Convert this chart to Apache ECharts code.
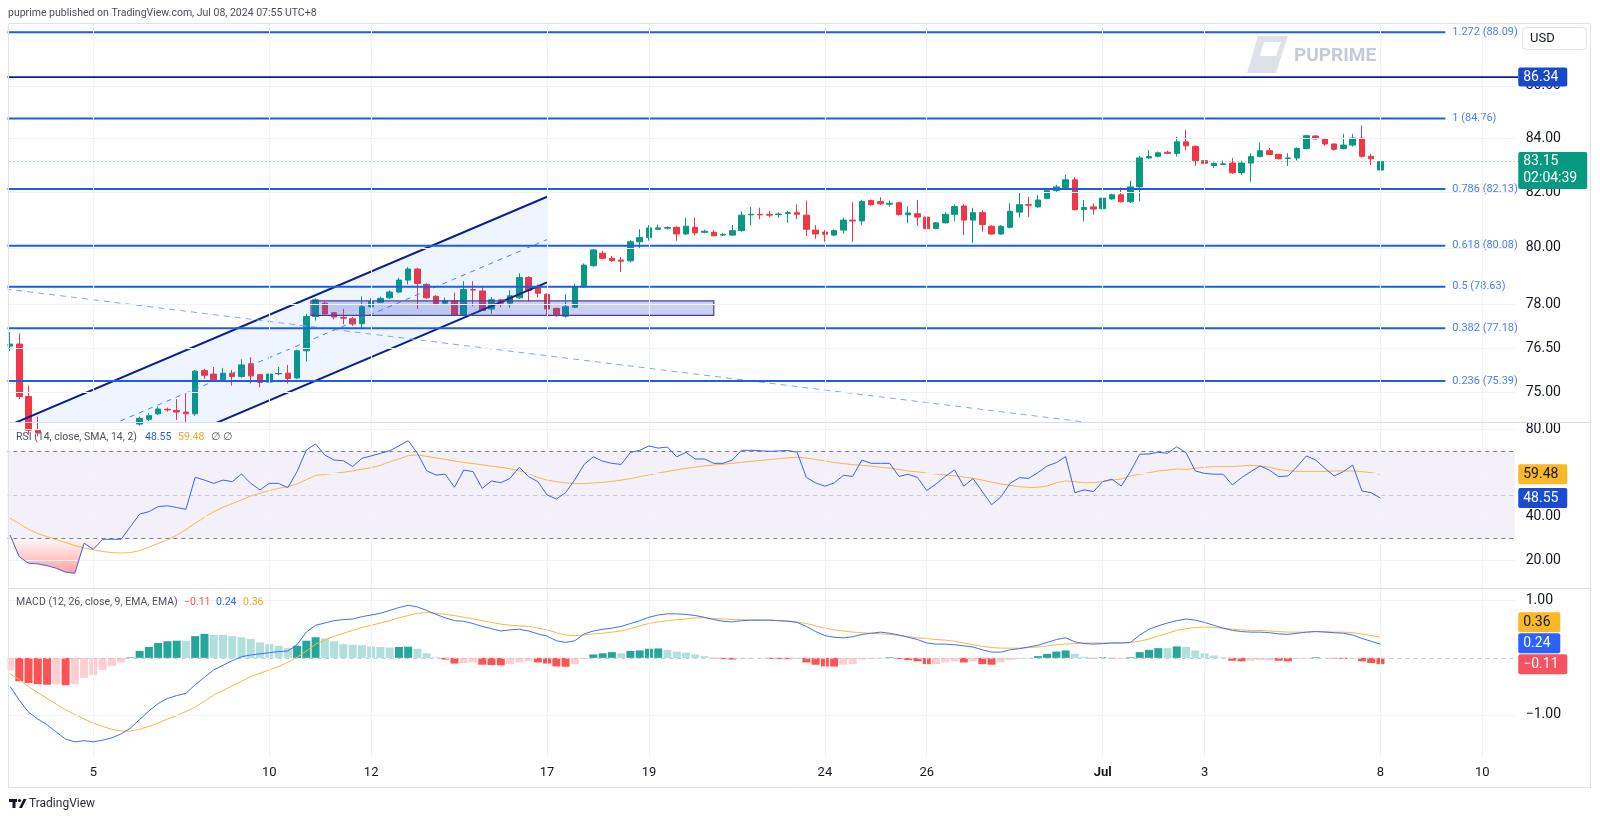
<!DOCTYPE html>
<html><head><meta charset="utf-8">
<script src="https://cdn.jsdelivr.net/npm/echarts@6/dist/echarts.min.js"></script>
<style>html,body{margin:0;padding:0;background:#fff;overflow:hidden}#c{width:1600px;height:819px}</style>
</head><body><div id="c"></div>
<script>
// ---------------- DATA (4h USOIL bars) ----------------
const open = [76.57,76.64,74.87,73.75,73.68,73.58,73.40,73.15,73.08,73.70,
73.55,73.75,73.74,73.72,73.95,74.11,74.29,74.44,74.40,74.35,
74.29,75.74,75.62,75.43,75.65,75.54,75.97,75.60,75.35,75.63,
75.65,75.49,76.41,77.59,78.05,77.72,77.56,77.51,77.34,77.93,
78.08,78.24,78.44,78.86,79.25,78.71,78.29,78.05,78.14,77.63,
78.53,78.48,77.85,78.17,78.05,78.24,78.95,78.60,78.36,77.87,
77.60,77.91,78.62,79.37,79.81,79.63,79.57,79.54,80.22,80.37,
80.67,80.71,80.74,80.50,80.74,80.56,80.56,80.46,80.46,80.62,
81.19,81.21,81.21,81.20,81.24,81.27,81.18,80.64,80.57,80.46,
80.64,81.00,80.97,81.71,81.67,81.58,81.63,81.19,81.23,81.11,
80.70,80.90,81.21,81.51,81.00,81.27,80.78,80.50,80.74,81.29,
81.56,81.48,81.79,82.07,82.19,82.47,81.38,81.48,81.41,81.77,
81.92,81.67,82.21,83.28,83.34,83.49,83.45,83.88,83.71,83.18,
83.00,83.04,83.09,82.74,83.09,83.33,83.55,83.41,83.26,83.28,
83.63,84.10,83.99,83.80,83.63,83.76,84.02,83.34,82.83];
const high = [77.05,77.00,75.24,74.20,73.85,73.70,73.50,73.30,73.80,73.78,
73.85,73.85,73.82,74.00,74.20,74.32,74.53,74.50,74.78,74.95,
75.76,75.80,75.86,75.83,75.76,76.12,76.19,75.63,75.65,75.86,
75.93,76.45,77.68,78.22,78.12,77.75,77.85,77.57,78.29,78.22,
78.28,78.50,78.95,79.32,79.30,78.75,78.33,78.25,78.42,78.82,
78.82,78.61,78.26,78.20,78.50,79.10,79.00,78.70,78.40,77.90,
78.36,78.74,79.45,79.96,79.90,79.71,79.67,80.28,80.67,80.82,
80.84,80.78,80.77,81.08,81.09,80.65,80.64,80.54,80.82,81.32,
81.47,81.45,81.33,81.28,81.33,81.57,81.71,80.82,80.64,80.67,
81.09,81.65,81.74,81.75,81.83,81.71,81.66,81.50,81.73,81.14,
80.93,81.29,81.57,81.59,81.45,81.35,80.82,80.82,81.61,81.99,
81.85,81.92,82.12,82.29,82.66,82.56,81.73,81.61,81.84,81.96,
82.19,82.44,83.36,83.57,83.52,83.55,84.07,84.33,83.75,83.34,
83.11,83.18,83.28,83.18,83.45,83.86,83.65,83.44,83.46,83.67,
84.15,84.13,84.02,83.82,84.18,84.18,84.49,83.43,83.25];
const low = [76.40,74.78,73.60,73.55,73.45,73.30,73.05,72.95,73.02,73.45,
73.50,73.60,73.62,73.68,73.90,74.05,74.25,74.36,74.09,74.00,
74.22,75.46,75.38,75.38,75.23,75.50,75.30,75.17,75.23,75.58,
75.30,75.45,76.04,77.45,77.65,77.49,77.32,77.26,77.19,77.90,
78.05,78.20,78.40,78.71,77.85,78.20,77.98,77.99,77.60,77.60,
77.94,77.78,77.68,77.91,77.89,78.20,78.11,78.26,77.65,77.58,
77.55,77.88,78.58,79.33,79.60,79.50,79.15,79.48,79.99,80.26,
80.64,80.67,80.26,80.47,80.45,80.52,80.41,80.43,80.43,80.58,
80.82,81.03,81.11,81.09,80.90,81.03,80.43,80.33,80.22,80.42,
80.52,80.22,80.83,81.52,81.55,81.49,81.17,80.89,80.79,80.50,
80.67,80.88,80.96,80.46,80.17,80.58,80.47,80.47,80.70,81.09,
81.11,81.45,81.76,82.03,82.15,81.35,80.96,81.20,81.38,81.74,
81.64,81.62,81.68,83.25,83.30,83.42,83.33,83.57,82.99,82.69,
82.91,83.03,82.69,82.66,82.40,83.30,83.38,83.22,82.98,83.18,
83.60,83.96,83.73,83.55,83.60,83.70,83.29,83.02,82.80];
const close = [76.64,74.87,73.75,73.68,73.58,73.40,73.15,73.08,73.70,73.55,
73.75,73.74,73.72,73.95,74.14,74.23,74.45,74.42,74.35,74.29,
75.72,75.58,75.43,75.65,75.54,75.93,75.56,75.34,75.62,75.64,
75.47,76.41,77.59,78.17,77.68,77.57,77.53,77.33,77.93,78.11,
78.22,78.44,78.86,79.25,78.74,78.24,78.02,78.14,77.63,78.53,
78.51,77.80,78.17,78.05,78.31,78.95,78.50,78.40,77.85,77.62,
77.93,78.62,79.39,79.93,79.63,79.55,79.53,80.22,80.37,80.72,
80.72,80.73,80.50,80.78,80.54,80.60,80.44,80.48,80.62,81.18,
81.21,81.19,81.18,81.22,81.27,81.21,80.67,80.50,80.49,80.62,
81.00,80.97,81.68,81.56,81.59,81.61,81.20,81.26,81.11,80.69,
80.90,81.21,81.49,81.00,81.27,80.84,80.50,80.78,81.32,81.56,
81.54,81.73,82.07,82.21,82.47,81.38,81.46,81.40,81.80,81.92,
81.67,82.21,83.28,83.33,83.47,83.45,83.88,83.73,83.18,83.08,
83.08,83.06,82.73,83.09,83.33,83.55,83.41,83.25,83.28,83.63,
84.11,83.99,83.80,83.60,83.76,84.02,83.34,83.25,83.15];
const rsi = [31.6,21.6,18.6,18.3,17.5,16.3,14.5,14.0,27.8,25.0,
29.6,29.6,29.6,35.4,41.2,42.3,44.6,45.0,44.2,43.4,
58.1,56.8,55.3,56.8,56.1,59.6,55.3,52.3,55.3,55.3,
53.3,60.7,70.6,73.4,68.3,66.0,65.7,63.0,66.8,67.9,
69.1,70.3,72.5,74.9,69.1,61.1,59.1,59.5,53.5,61.4,
60.7,53.0,56.4,55.6,57.6,62.7,58.4,56.1,50.0,48.1,
51,57,64,67.5,65.5,64.5,64,69.5,70.5,72.5,
71.5,72,67.5,69.5,66.5,66.5,64.5,64.5,66,70.5,
70.5,70.3,70,70.2,70.4,69.6,58,55.5,54,55.5,
59,58.5,66,64.5,64.5,64.5,58.5,59.5,58,52,
55,58.5,61.5,54,57.5,51.5,45.5,49.0,55.3,57.9,
57.6,60.2,63.3,64.8,67.6,51.0,52.3,51.5,56.1,57.2,
54.1,60.7,68.7,68.8,69.6,69.1,72.1,69.4,61.0,59.9,
59.5,59.5,54.6,57.9,60.7,63.3,61.4,58.4,58.7,63.0,
67.9,66.0,62.2,58.7,60.7,63.7,51.8,51.0,48.55];
const rsiMa = [39.3,36.8,34.2,32.2,30.8,29.5,28.2,26.7,25.6,24.7,
24.0,23.5,23.3,23.5,24.4,26.0,27.7,29.3,31.5,34.0,
37.0,39.7,42.3,44.3,46.0,47.7,49.5,50.8,52.0,53.0,
53.9,55.0,57.0,58.9,59.4,59.9,60.4,61.0,61.8,62.5,
63.6,65.2,66.5,68.0,68.4,67.7,67.0,66.3,65.6,64.9,
64.4,63.8,63.2,62.7,62.0,61.1,59.8,58.0,56.8,56.1,
55.5,55.2,55.2,55.5,55.8,56.2,56.8,57.5,58.3,59.2,
60.0,60.8,61.5,62.2,62.8,63.3,63.7,64.1,64.5,65.0,
65.4,65.8,66.2,66.6,67.0,67.3,66.9,66.3,65.6,64.9,
64.4,63.9,63.6,63.2,62.7,62.3,61.7,61.0,60.6,60.0,
59.6,59.2,58.8,58.2,57.6,56.8,55.9,55.0,54.4,53.8,
53.4,53.5,54.1,55.6,56.4,56.1,55.6,55.6,56.1,56.8,
57.3,58.7,59.5,60.2,61.0,61.4,61.9,61.7,62.2,62.7,
63.0,63.0,63.0,63.3,63.6,63.3,62.7,61.7,61.1,60.8,
60.8,60.8,60.8,61.0,61.0,61.0,60.7,60.2,59.48];
const macd = [-0.50,-0.74,-0.95,-1.07,-1.17,-1.30,-1.42,-1.47,-1.45,-1.47,
-1.44,-1.40,-1.33,-1.23,-1.08,-0.93,-0.80,-0.71,-0.66,-0.62,
-0.47,-0.34,-0.21,-0.13,-0.05,0.02,0.05,0.07,0.09,0.11,
0.12,0.23,0.45,0.57,0.61,0.65,0.67,0.68,0.72,0.75,
0.78,0.83,0.88,0.92,0.89,0.83,0.76,0.70,0.65,0.64,
0.60,0.55,0.51,0.47,0.49,0.50,0.47,0.42,0.38,0.30,
0.27,0.30,0.42,0.47,0.50,0.52,0.55,0.60,0.65,0.71,
0.75,0.77,0.77,0.76,0.74,0.71,0.67,0.64,0.63,0.65,
0.66,0.66,0.66,0.65,0.64,0.62,0.55,0.46,0.39,0.36,
0.35,0.37,0.41,0.43,0.45,0.43,0.40,0.36,0.32,0.26,
0.24,0.24,0.23,0.21,0.19,0.14,0.10,0.10,0.14,0.16,
0.19,0.22,0.27,0.32,0.35,0.28,0.25,0.24,0.25,0.26,
0.26,0.27,0.40,0.50,0.56,0.61,0.65,0.68,0.66,0.62,
0.57,0.52,0.48,0.46,0.45,0.45,0.44,0.42,0.41,0.43,
0.45,0.46,0.45,0.44,0.43,0.40,0.34,0.29,0.24];
const signal = [-0.28,-0.38,-0.50,-0.61,-0.71,-0.81,-0.91,-0.99,-1.07,-1.14,
-1.20,-1.25,-1.28,-1.28,-1.25,-1.20,-1.14,-1.07,-1.01,-0.94,
-0.86,-0.76,-0.65,-0.57,-0.49,-0.41,-0.33,-0.27,-0.21,-0.15,
-0.08,0.01,0.12,0.24,0.31,0.38,0.43,0.48,0.53,0.57,
0.61,0.65,0.70,0.74,0.78,0.79,0.78,0.76,0.74,0.71,
0.68,0.65,0.62,0.59,0.57,0.56,0.55,0.52,0.49,0.44,
0.40,0.39,0.40,0.42,0.43,0.45,0.47,0.51,0.56,0.60,
0.63,0.65,0.67,0.68,0.70,0.70,0.69,0.68,0.67,0.67,
0.66,0.66,0.66,0.65,0.65,0.63,0.60,0.56,0.52,0.49,
0.47,0.45,0.44,0.43,0.42,0.41,0.39,0.37,0.35,0.34,
0.32,0.31,0.29,0.26,0.23,0.20,0.18,0.17,0.17,0.17,
0.18,0.19,0.21,0.23,0.24,0.25,0.26,0.26,0.26,0.26,
0.26,0.27,0.29,0.33,0.38,0.43,0.48,0.51,0.53,0.54,
0.53,0.52,0.50,0.49,0.48,0.48,0.47,0.46,0.45,0.45,
0.45,0.46,0.46,0.45,0.45,0.44,0.42,0.39,0.36];
const hist = [-0.22,-0.41,-0.44,-0.46,-0.47,-0.46,-0.48,-0.46,-0.35,-0.30,
-0.21,-0.14,-0.08,0.01,0.12,0.19,0.26,0.29,0.30,0.30,
0.38,0.42,0.40,0.40,0.38,0.36,0.33,0.27,0.24,0.21,
0.17,0.21,0.30,0.36,0.34,0.29,0.24,0.23,0.22,0.20,
0.19,0.18,0.19,0.195,0.16,0.08,0.01,-0.03,-0.10,-0.09,
-0.08,-0.12,-0.125,-0.13,-0.11,-0.08,-0.06,-0.08,-0.10,-0.15,
-0.155,-0.11,-0.02,0.06,0.08,0.10,0.08,0.12,0.13,0.16,
0.165,0.14,0.11,0.09,0.06,0.03,-0.01,-0.02,-0.03,-0.01,
-0.01,-0.005,-0.02,-0.022,-0.024,-0.02,-0.08,-0.12,-0.15,-0.152,
-0.12,-0.11,-0.03,-0.02,-0.01,0.01,-0.02,-0.04,-0.06,-0.11,
-0.11,-0.08,-0.06,-0.08,-0.06,-0.11,-0.12,-0.08,-0.04,-0.02,
-0.01,0.03,0.07,0.11,0.13,0.07,0.02,-0.01,0.01,-0.01,
-0.01,0.01,0.10,0.14,0.17,0.17,0.20,0.19,0.13,0.08,
0.04,0.01,-0.05,-0.06,-0.05,-0.04,-0.04,-0.05,-0.06,-0.02,
-0.01,0.01,0.005,-0.01,-0.02,-0.01,-0.06,-0.09,-0.11];

const xTickIndex = [9, 28, 39, 58, 69, 88, 99, 118, 129, 148, 159];
const xTickText  = ['5','10','12','17','19','24','26','Jul','3','8','10'];
const priceTicks = [75, 76.5, 78, 80, 82, 84, 86];
const rsiTicks = [20, 40, 60, 80];
const rsiBands = [70, 50, 30];
const macdTicks = [-1, 1];
const fibRatio = [1.272, 1, 0.786, 0.618, 0.5, 0.382, 0.236];
const fibPrice = [88.09, 84.76, 82.13, 80.08, 78.63, 77.18, 75.39];
const keyLevel = 86.34;
const lastPrice = 83.15;
const countdown = '02:04:39';
const channelBars = [0, 58];
const channelUpper = [73.92, 81.85];
const channelMid = [72.52, 80.30];
const channelLower = [71.15, 78.78];
const trendBars = [0, 120];
const trendPrices = [78.53, 73.87];
const zoneBars = [33, 76];
const zonePrices = [77.63, 78.13];
const fibEndBar = 155;

// ---------------- LAYOUT ----------------
const FONT = 'Roboto, "Noto Sans", "DejaVu Sans", sans-serif';
const TXT = '#131722';
const BARS = open.length;
const FUTURE = 14;
const NCAT = BARS + FUTURE;
const BW = 9.26;
const GL = 5.37;
const GW = NCAT * BW;
const PRICE_MIN = 74.02, PRICE_MAX = 88.45;
const LAST = BARS - 1;
const categories = Array.from({length: NCAT}, (_, i) => String(i));
const candleData = open.map((o, i) => [o, close[i], low[i], high[i]]);
const osBase = rsi.map(v => Math.min(v, 30));
const osFill = rsi.map(v => 30 - Math.min(v, 30));
const histData = hist.map((v, i) => {
  const p = i > 0 ? hist[i - 1] : v;
  let c;
  if (v >= 0) c = v > p ? '#26A69A' : '#B2DFDB';
  else c = v < p ? '#FF5252' : '#FFCDD2';
  return {value: v, itemStyle: {color: c}};
});
const fmtSigned = v => (v < 0 ? '\u2212' + Math.abs(v).toFixed(2) : v.toFixed(2));
const GRIDC = '#f0f3fa';
const HDR = '10.5px ' + FONT;
const AX = 14;

function vGrid() { return xTickIndex.map(i => ({xAxis: i})); }

const chart = echarts.init(document.getElementById('c'), null, {renderer: 'canvas'});

function txt(x, y, text, fill, font) {
  return {type: 'text', style: {x: x, y: y, text: text, fill: fill, font: font,
    align: 'left', verticalAlign: 'middle', textAlign: 'left', textVerticalAlign: 'middle'}};
}
function channelRender(params, api) {
  const u0 = api.coord([channelBars[0], channelUpper[0]]), u1 = api.coord([channelBars[1], channelUpper[1]]);
  const m0 = api.coord([channelBars[0], channelMid[0]]), m1 = api.coord([channelBars[1], channelMid[1]]);
  const l0 = api.coord([channelBars[0], channelLower[0]]), l1 = api.coord([channelBars[1], channelLower[1]]);
  return {type: 'group', children: [
    {type: 'polygon', shape: {points: [u0, u1, l1, l0]}, style: {fill: 'rgba(41,120,255,0.075)'}},
    {type: 'line', shape: {x1: m0[0], y1: m0[1], x2: m1[0], y2: m1[1]}, style: {stroke: '#4f7ff2', lineWidth: 1, lineDash: [5, 5]}},
    {type: 'line', shape: {x1: u0[0], y1: u0[1], x2: u1[0], y2: u1[1]}, style: {stroke: '#0b1f8f', lineWidth: 2}},
    {type: 'line', shape: {x1: l0[0], y1: l0[1], x2: l1[0], y2: l1[1]}, style: {stroke: '#0b1f8f', lineWidth: 2}}
  ]};
}
function trendRender(params, api) {
  const a = api.coord([trendBars[0], trendPrices[0]]), b = api.coord([trendBars[1], trendPrices[1]]);
  const cs = params.coordSys;
  const slope = (b[1] - a[1]) / (b[0] - a[0]);
  return {type: 'line', shape: {x1: cs.x, y1: a[1] - slope * (a[0] - cs.x), x2: b[0], y2: b[1]},
    style: {stroke: '#7fa8f6', lineWidth: 1, lineDash: [6, 5]}};
}
function zoneRender(params, api) {
  const a = api.coord([zoneBars[0], zonePrices[1]]), b = api.coord([zoneBars[1], zonePrices[0]]);
  return {type: 'rect', shape: {x: a[0] - 4.6, y: a[1], width: b[0] - a[0] + 4.6, height: b[1] - a[1]},
    style: {fill: 'rgba(55,80,210,0.27)', stroke: '#4b3f9f', lineWidth: 1.2}};
}
function fibRender(params, api) {
  const cs = params.coordSys;
  const p = api.value(1), r = api.value(2);
  const y = api.coord([0, p])[1];
  const xe = api.coord([fibEndBar, p])[0];
  return {type: 'group', children: [
    {type: 'line', shape: {x1: cs.x, y1: y, x2: xe, y2: y}, style: {stroke: '#1f5ce8', lineWidth: 2}},
    txt(xe + 7, y, r + ' (' + p.toFixed(2) + ')', '#4a7ff0', '11px ' + FONT)
  ]};
}
function priceBoxRender(params, api) {
  const cs = params.coordSys;
  const right = cs.x + cs.width;
  const yk = api.coord([0, keyLevel])[1];
  const yl = api.coord([0, lastPrice])[1];
  const bx = right + 3.5;
  return {type: 'group', children: [
    {type: 'line', shape: {x1: cs.x, y1: yk, x2: bx, y2: yk}, style: {stroke: '#0d1f9e', lineWidth: 1.6}},
    {type: 'line', shape: {x1: cs.x, y1: yl, x2: bx, y2: yl}, style: {stroke: '#5fb3a3', lineWidth: 1, lineDash: [1, 3]}},
    {type: 'rect', shape: {x: bx, y: yk - 9.5, width: 49, height: 19, r: 2}, style: {fill: '#1848cc'}},
    txt(bx + 5, yk + 0.5, keyLevel.toFixed(2), '#ffffff', AX + 'px ' + FONT),
    {type: 'rect', shape: {x: bx, y: yl - 9.5, width: 69, height: 37, r: 2}, style: {fill: '#089981'}},
    txt(bx + 5, yl + 0.5, lastPrice.toFixed(2), '#ffffff', AX + 'px ' + FONT),
    txt(bx + 5, yl + 17.5, countdown, '#ffffff', AX + 'px ' + FONT)
  ]};
}
function boxesRender(items) {
  return function (params, api) {
    const cs = params.coordSys;
    const bx = cs.x + cs.width + 3.5;
    const arr = items.map(it => Object.assign({}, it, {y: api.coord([LAST, it.v])[1]}));
    arr.sort((a, b) => a.y - b.y);
    for (let k = arr.length - 2; k >= 0; k--) {
      if (arr[k].y > arr[k + 1].y - 21) arr[k].y = arr[k + 1].y - 21;
    }
    const ch = [];
    arr.forEach(it => {
      const t = fmtSigned(it.v);
      const w = t.length > 4 ? 49 : 42;
      ch.push({type: 'rect', shape: {x: bx, y: it.y - 10, width: it.w || w, height: 20, r: 2}, style: {fill: it.fill}});
      ch.push(txt(bx + 5, it.y + 0.5, t, it.tc, AX + 'px ' + FONT));
    });
    return {type: 'group', children: ch};
  };
}

const nulls = categories.map(() => null);
const yLabel = {color: TXT, fontSize: AX, fontFamily: FONT, margin: 11};

const option = {
  animation: false,
  backgroundColor: '#ffffff',
  textStyle: {fontFamily: FONT},
  grid: [
    {left: GL, top: 23, width: GW, height: 399},
    {left: GL, top: 423, width: GW, height: 165},
    {left: GL, top: 589, width: GW, height: 169}
  ],
  xAxis: [0, 1, 2].map(g => ({
    type: 'category', gridIndex: g, data: categories, boundaryGap: true,
    axisLine: {show: false}, axisTick: {show: false}, splitLine: {show: false},
    axisLabel: g === 2 ? {
      show: true, interval: (idx) => xTickIndex.indexOf(idx) >= 0, margin: 8,
      color: TXT, fontSize: 13, fontFamily: FONT,
      formatter: (v, idx) => { const k = xTickIndex.indexOf(idx); if (k < 0) return ''; const t = xTickText[k]; return t === 'Jul' ? '{b|Jul}' : t; },
      rich: {b: {fontWeight: 'bold', fontSize: 13, color: TXT, fontFamily: FONT}}
    } : {show: false}
  })),
  yAxis: [
    {type: 'log', gridIndex: 0, min: PRICE_MIN, max: PRICE_MAX, show: false, position: 'left'},
    {type: 'value', gridIndex: 0, position: 'right', min: Math.log(PRICE_MIN), max: Math.log(PRICE_MAX),
      axisLine: {show: false}, axisTick: {show: false}, splitLine: {show: false},
      axisLabel: Object.assign({customValues: priceTicks.map(v => Math.log(v)), formatter: v => Math.exp(v).toFixed(2)}, yLabel)},
    {type: 'value', gridIndex: 1, position: 'right', min: 7.23, max: 83.03,
      axisLine: {show: false}, axisTick: {show: false}, splitLine: {show: false},
      axisLabel: Object.assign({customValues: rsiTicks, formatter: v => v.toFixed(2)}, yLabel)},
    {type: 'value', gridIndex: 2, position: 'right', min: -1.7524, max: 1.2047,
      axisLine: {show: false}, axisTick: {show: false}, splitLine: {show: false},
      axisLabel: Object.assign({customValues: macdTicks, formatter: v => fmtSigned(v)}, yLabel)}
  ],
  series: [
    {type: 'line', xAxisIndex: 0, yAxisIndex: 0, data: nulls, silent: true, z: 1, symbol: 'none',
      markLine: {silent: true, symbol: 'none', label: {show: false}, lineStyle: {color: GRIDC, width: 1, type: 'solid'},
        data: priceTicks.map(v => ({yAxis: v})).concat(vGrid())}},
    {type: 'candlestick', name: 'USOIL', xAxisIndex: 0, yAxisIndex: 0, data: candleData, barWidth: 6, z: 2,
      itemStyle: {color: '#089981', color0: '#F23645', borderColor: '#089981', borderColor0: '#F23645', borderWidth: 1}},
    {type: 'custom', xAxisIndex: 0, yAxisIndex: 0, data: [[channelBars[0], channelUpper[0]]], renderItem: channelRender, clip: true, silent: true, z: 3},
    {type: 'custom', xAxisIndex: 0, yAxisIndex: 0, data: [[trendBars[0], trendPrices[0]]], renderItem: trendRender, clip: true, silent: true, z: 3},
    {type: 'custom', xAxisIndex: 0, yAxisIndex: 0, data: [[zoneBars[0], zonePrices[0]]], renderItem: zoneRender, clip: true, silent: true, z: 4},
    {type: 'custom', xAxisIndex: 0, yAxisIndex: 0, data: fibPrice.map((p, k) => [0, p, fibRatio[k]]), renderItem: fibRender, clip: false, silent: true, z: 4},
    {type: 'custom', xAxisIndex: 0, yAxisIndex: 0, data: [[0, keyLevel]], renderItem: priceBoxRender, clip: false, silent: true, z: 10},

    {type: 'line', xAxisIndex: 1, yAxisIndex: 2, data: nulls, silent: true, z: 1, symbol: 'none',
      markArea: {silent: true, itemStyle: {color: 'rgba(126,87,194,0.09)'}, data: [[{yAxis: rsiBands[0]}, {yAxis: rsiBands[2]}]]},
      markLine: {silent: true, symbol: 'none', label: {show: false}, lineStyle: {color: GRIDC, width: 1, type: 'solid'},
        data: rsiTicks.map(v => ({yAxis: v})).concat(vGrid())}},
    {type: 'line', xAxisIndex: 1, yAxisIndex: 2, data: nulls, silent: true, z: 2, symbol: 'none',
      markLine: {silent: true, symbol: 'none', label: {show: false},
        data: [
          {yAxis: rsiBands[0], lineStyle: {color: '#787b86', width: 1, type: [4, 4]}},
          {yAxis: rsiBands[1], lineStyle: {color: '#c3c6ce', width: 1, type: [4, 4]}},
          {yAxis: rsiBands[2], lineStyle: {color: '#787b86', width: 1, type: [4, 4]}}
        ]}},
    {type: 'line', xAxisIndex: 1, yAxisIndex: 2, data: osBase, stack: 'os', symbol: 'none', silent: true, z: 3,
      lineStyle: {opacity: 0, width: 0}},
    {type: 'line', xAxisIndex: 1, yAxisIndex: 2, data: osFill, stack: 'os', symbol: 'none', silent: true, z: 3,
      lineStyle: {opacity: 0, width: 0},
      areaStyle: {opacity: 1, color: new echarts.graphic.LinearGradient(0, 0, 0, 1, [
        {offset: 0, color: 'rgba(255,82,82,0.03)'}, {offset: 1, color: 'rgba(255,82,82,0.55)'}])}},
    {type: 'line', name: 'RSI MA', xAxisIndex: 1, yAxisIndex: 2, data: rsiMa, symbol: 'none', z: 4,
      lineStyle: {color: '#f7b847', width: 1}},
    {type: 'line', name: 'RSI', xAxisIndex: 1, yAxisIndex: 2, data: rsi, symbol: 'none', z: 5,
      lineStyle: {color: '#3f63e0', width: 1}},
    {type: 'custom', xAxisIndex: 1, yAxisIndex: 2, data: [[LAST, rsi[LAST]]], clip: false, silent: true, z: 10,
      renderItem: boxesRender([
        {v: rsiMa[LAST], fill: '#f9b825', tc: TXT, w: 49},
        {v: rsi[LAST], fill: '#1a4bd1', tc: '#ffffff', w: 49}])},

    {type: 'line', xAxisIndex: 2, yAxisIndex: 3, data: nulls, silent: true, z: 1, symbol: 'none',
      markLine: {silent: true, symbol: 'none', label: {show: false}, lineStyle: {color: GRIDC, width: 1, type: 'solid'},
        data: macdTicks.map(v => ({yAxis: v})).concat(vGrid()).concat([{yAxis: 0, lineStyle: {color: '#c8cad1', type: [4, 4], width: 1}}])}},
    {type: 'bar', name: 'Histogram', xAxisIndex: 2, yAxisIndex: 3, data: histData, barWidth: 8, z: 2},
    {type: 'line', name: 'Signal', xAxisIndex: 2, yAxisIndex: 3, data: signal, symbol: 'none', z: 4,
      lineStyle: {color: '#f7b847', width: 1}},
    {type: 'line', name: 'MACD', xAxisIndex: 2, yAxisIndex: 3, data: macd, symbol: 'none', z: 5,
      lineStyle: {color: '#3f6ff5', width: 1}},
    {type: 'custom', xAxisIndex: 2, yAxisIndex: 3, data: [[LAST, macd[LAST]]], clip: false, silent: true, z: 10,
      renderItem: boxesRender([
        {v: signal[LAST], fill: '#f9b825', tc: TXT},
        {v: macd[LAST], fill: '#2962ff', tc: '#ffffff'},
        {v: hist[LAST], fill: '#f7525f', tc: '#ffffff'}])}
  ],
  graphic: [
    {type: 'rect', z: 50, silent: true, shape: {x: 0, y: 20, width: 7.5, height: 770}, style: {fill: '#ffffff'}},
    {type: 'rect', z: 51, silent: true, shape: {x: 8.5, y: 23.5, width: 1582, height: 764}, style: {fill: 'none', stroke: '#e0e3eb', lineWidth: 1}},
    {type: 'line', z: 51, silent: true, shape: {x1: 8, y1: 422.5, x2: 1591, y2: 422.5}, style: {stroke: '#dadde5', lineWidth: 1}},
    {type: 'line', z: 51, silent: true, shape: {x1: 8, y1: 588.5, x2: 1591, y2: 588.5}, style: {stroke: '#dadde5', lineWidth: 1}},
    Object.assign(txt(8, 13, 'puprime published on TradingView.com, Jul 08, 2024 07:55 UTC+8', '#4a4d57', HDR), {z: 52, silent: true}),
    Object.assign(txt(16, 437, 'RSI (14, close, SMA, 14, 2)', '#50535e', HDR), {z: 52, silent: true}),
    Object.assign(txt(145, 437, rsi[LAST].toFixed(2), '#2f5be0', HDR), {z: 52, silent: true}),
    Object.assign(txt(178, 437, rsiMa[LAST].toFixed(2), '#f5a623', HDR), {z: 52, silent: true}),
    Object.assign(txt(211, 437, '\u2205', '#50535e', HDR), {z: 52, silent: true}),
    Object.assign(txt(223, 437, '\u2205', '#50535e', HDR), {z: 52, silent: true}),
    Object.assign(txt(16, 602, 'MACD (12, 26, close, 9, EMA, EMA)', '#50535e', HDR), {z: 52, silent: true}),
    Object.assign(txt(184, 602, fmtSigned(hist[LAST]), '#f7525f', HDR), {z: 52, silent: true}),
    Object.assign(txt(216, 602, macd[LAST].toFixed(2), '#2962ff', HDR), {z: 52, silent: true}),
    Object.assign(txt(243, 602, signal[LAST].toFixed(2), '#f5a623', HDR), {z: 52, silent: true}),
    {type: 'rect', z: 52, silent: true, shape: {x: 1522.5, y: 27.5, width: 64, height: 22, r: 4}, style: {fill: '#ffffff', stroke: '#e0e3eb', lineWidth: 1}},
    Object.assign(txt(1530, 39, 'USD', TXT, '13px ' + FONT), {z: 53, silent: true}),
    {type: 'polygon', z: 40, silent: true, shape: {points: [[1258, 36], [1288, 36], [1276, 73], [1247, 73]]}, style: {fill: 'rgba(160,170,190,0.35)'}},
    {type: 'polygon', z: 41, silent: true, shape: {points: [[1264, 42], [1281, 42], [1276, 56], [1260, 56]]}, style: {fill: '#ffffff'}},
    Object.assign(txt(1294, 56, 'PUPRIME', 'rgba(150,160,180,0.55)', 'bold 19px ' + FONT), {z: 41, silent: true}),
    {type: 'rect', z: 52, silent: true, shape: {x: 9, y: 799, width: 8, height: 3}, style: {fill: TXT}},
    {type: 'rect', z: 52, silent: true, shape: {x: 12.5, y: 799, width: 3, height: 9}, style: {fill: TXT}},
    {type: 'circle', z: 52, silent: true, shape: {cx: 19.5, cy: 800.5, r: 1.6}, style: {fill: TXT}},
    {type: 'polygon', z: 52, silent: true, shape: {points: [[19, 808], [23.5, 799], [26.5, 799], [22, 808]]}, style: {fill: TXT}},
    Object.assign(txt(29, 803.5, 'TradingView', '#2a2e39', '12px ' + FONT), {z: 52, silent: true})
  ]
};
chart.setOption(option);
</script>
</body></html>
